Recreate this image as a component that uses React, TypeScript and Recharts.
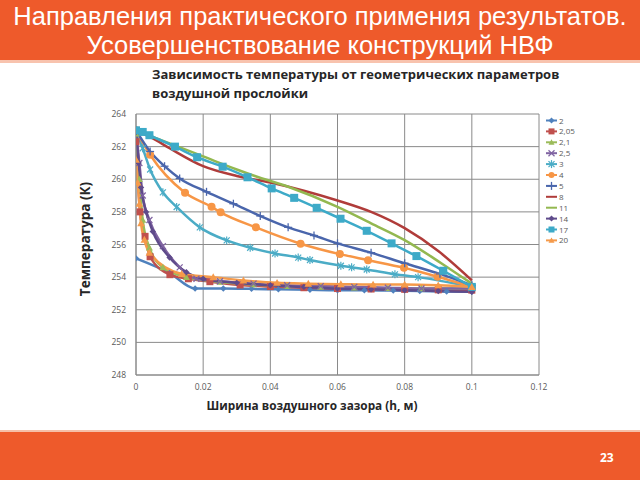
import { LineChart, Line, XAxis, YAxis, CartesianGrid } from 'recharts';

// каждая серия: [ширина зазора h, м ; температура, K]
const s2: [number, number][] = [
  [0, 255.15], [0.01, 254.25], [0.0176, 253.3], [0.026, 253.3], [0.0344, 253.28], [0.0424, 253.25],
  [0.0518, 253.22], [0.06, 253.2], [0.068, 253.2], [0.0766, 253.18], [0.0845, 253.15], [0.0925, 253.12], [0.1, 253.1],
];
const s205: [number, number][] = [
  [0, 262.3], [0.0012, 258.0], [0.0027, 256.5], [0.0042, 255.25], [0.0101, 254.15], [0.0156, 253.9],
  [0.022, 253.72], [0.031, 253.52], [0.04, 253.42], [0.05, 253.35], [0.06, 253.3], [0.07, 253.27],
  [0.08, 253.25], [0.09, 253.22], [0.1, 253.2],
];
const s21: [number, number][] = [
  [0, 262.8], [0.001, 260.0], [0.002, 257.5], [0.004, 255.8], [0.008, 254.6], [0.015, 254.0],
  [0.025, 253.7], [0.035, 253.55], [0.045, 253.45], [0.055, 253.4], [0.065, 253.35], [0.075, 253.32],
  [0.085, 253.3], [0.1, 253.3],
];
const s25: [number, number][] = [
  [0, 263.0], [0.001, 261.0], [0.002, 259.0], [0.004, 257.5], [0.008, 255.9], [0.013, 254.6],
  [0.018, 253.9], [0.025, 253.75], [0.035, 253.6], [0.045, 253.5], [0.055, 253.45], [0.065, 253.4],
  [0.075, 253.35], [0.085, 253.3], [0.1, 253.3],
];
const s3: [number, number][] = [
  [0, 263.0], [0.002, 261.9], [0.0042, 260.6], [0.008, 259.2], [0.0121, 258.3], [0.019, 257.05],
  [0.027, 256.25], [0.034, 255.8], [0.0414, 255.45], [0.0483, 255.2], [0.0518, 255.05], [0.061, 254.7],
  [0.0642, 254.6], [0.0687, 254.47], [0.0771, 254.17], [0.084, 254.0], [0.1, 253.4],
];
const s4: [number, number][] = [
  [0, 263.0], [0.0042, 261.5], [0.0146, 259.17], [0.0225, 258.31], [0.0252, 257.97], [0.0357, 257.05],
  [0.049, 256.05], [0.0607, 255.41], [0.0691, 255.04], [0.0798, 254.57], [0.0898, 254.02], [0.1, 253.4],
];
const s5: [number, number][] = [
  [0, 263.0], [0.0042, 261.7], [0.0085, 260.8], [0.013, 260.05], [0.021, 259.23], [0.029, 258.5],
  [0.037, 257.75], [0.0453, 257.05], [0.053, 256.55], [0.06, 256.07], [0.07, 255.5], [0.08, 254.85],
  [0.0905, 254.2], [0.1, 253.5],
];
const s8: [number, number][] = [
  [0, 263.0], [0.005, 262.5], [0.01, 261.9], [0.02, 260.8], [0.03, 260.2], [0.04, 259.8], [0.05, 259.3],
  [0.06, 258.7], [0.07, 258.0], [0.08, 257.0], [0.09, 255.6], [0.1, 253.8],
];
const s11: [number, number][] = [
  [0, 263.0], [0.01, 262.2], [0.02, 261.4], [0.03, 260.6], [0.0354, 260.2], [0.0453, 259.54],
  [0.06, 258.31], [0.07, 257.3], [0.08, 256.27], [0.091, 254.84], [0.1, 253.6],
];
const s14: [number, number][] = [
  [0, 262.9], [0.0008, 261.0], [0.0015, 259.5], [0.003, 258.0], [0.005, 256.8], [0.01, 255.2],
  [0.015, 254.3], [0.02, 253.9], [0.03, 253.65], [0.04, 253.5], [0.05, 253.4], [0.06, 253.3],
  [0.07, 253.25], [0.08, 253.2], [0.09, 253.15], [0.1, 253.1],
];
const s17: [number, number][] = [
  [0, 263.0], [0.002, 262.9], [0.004, 262.7], [0.0116, 262.0], [0.0182, 261.35], [0.0258, 260.77],
  [0.0332, 260.12], [0.0404, 259.44], [0.0471, 258.86], [0.0538, 258.25], [0.0609, 257.58],
  [0.0687, 256.84], [0.0761, 256.07], [0.0835, 255.29], [0.0915, 254.39], [0.1, 253.4],
];
const s20: [number, number][] = [
  [0, 261.2], [0.0005, 259.8], [0.001, 258.5], [0.0015, 257.3], [0.0025, 256.3], [0.004, 255.5],
  [0.0136, 254.2], [0.023, 254.0], [0.032, 253.8], [0.042, 253.65], [0.0513, 253.6], [0.061, 253.57],
  [0.0706, 253.55], [0.08, 253.55], [0.09, 253.5], [0.1, 253.4],
];

const seriesNames = ['2', '2,05', '2,1', '2,5', '3', '4', '5', '8', '11', '14', '17', '20'];
const seriesValues = [s2, s205, s21, s25, s3, s4, s5, s8, s11, s14, s17, s20];
const seriesColors = [
  '#4F81BD', '#C0504D', '#9BBB59', '#8064A2', '#4BACC6', '#F79646',
  '#4A66AC', '#B03C3A', '#93B850', '#5F4B8B', '#3DAAC8', '#F59A4A',
];
const seriesMarkers = [
  'diamond', 'square', 'triangle', 'x', 'asterisk', 'circle',
  'plus', 'none', 'none', 'diamond', 'square', 'triangle',
];
const markerSizes = [3.2, 3.5, 3.5, 3, 3, 4, 3, 0, 0, 3.2, 4, 3.8];

const xTicks = [0, 0.02, 0.04, 0.06, 0.08, 0.1, 0.12];
const yTicks = [248, 250, 252, 254, 256, 258, 260, 262, 264];

const series = seriesNames.map((name, i) => ({
  name,
  color: seriesColors[i],
  marker: seriesMarkers[i],
  size: markerSizes[i],
  data: seriesValues[i].map(([x, y]) => ({ x, y })),
}));

const FONT = "'Open Sans', 'Liberation Sans', sans-serif";

function Marker({ kind, cx, cy, r, color }: { kind: string; cx: number; cy: number; r: number; color: string }) {
  if (kind === 'diamond') {
    return <polygon points={`${cx},${cy - r} ${cx + r},${cy} ${cx},${cy + r} ${cx - r},${cy}`} fill={color} />;
  }
  if (kind === 'square') {
    return <rect x={cx - r} y={cy - r} width={r * 2} height={r * 2} fill={color} />;
  }
  if (kind === 'triangle') {
    return <polygon points={`${cx},${cy - r} ${cx + r},${cy + r * 0.8} ${cx - r},${cy + r * 0.8}`} fill={color} />;
  }
  if (kind === 'circle') {
    return <circle cx={cx} cy={cy} r={r} fill={color} />;
  }
  if (kind === 'x') {
    return (
      <g stroke={color} strokeWidth={1.3}>
        <line x1={cx - r} y1={cy - r} x2={cx + r} y2={cy + r} />
        <line x1={cx - r} y1={cy + r} x2={cx + r} y2={cy - r} />
      </g>
    );
  }
  if (kind === 'asterisk') {
    return (
      <g stroke={color} strokeWidth={1.2}>
        <line x1={cx - r} y1={cy - r} x2={cx + r} y2={cy + r} />
        <line x1={cx - r} y1={cy + r} x2={cx + r} y2={cy - r} />
        <line x1={cx} y1={cy - r - 1} x2={cx} y2={cy + r + 1} />
      </g>
    );
  }
  if (kind === 'plus') {
    return (
      <g stroke={color} strokeWidth={1.3}>
        <line x1={cx - r - 1} y1={cy} x2={cx + r + 1} y2={cy} />
        <line x1={cx} y1={cy - r - 1} x2={cx} y2={cy + r + 1} />
      </g>
    );
  }
  return null;
}

function makeDot(kind: string, color: string, r: number) {
  if (kind === 'none') return false;
  return (props: any) => {
    const { cx, cy, index } = props;
    if (cx == null || cy == null) return <g key={index} />;
    return (
      <g key={index}>
        <Marker kind={kind} cx={cx} cy={cy} r={r} color={color} />
      </g>
    );
  };
}

function Legend() {
  return (
    <svg width={50} height={135} style={{ position: 'absolute', left: 542, top: 113 }}>
      {series.map((s, i) => {
        const y = 7.5 + i * 10.9;
        return (
          <g key={s.name}>
            <line x1={4} y1={y} x2={15} y2={y} stroke={s.color} strokeWidth={2} />
            <Marker kind={s.marker} cx={9.5} cy={y} r={Math.min(s.size, 3)} color={s.color} />
            <text x={17} y={y + 3} fontSize={8} fill="#595959" fontFamily={FONT}>
              {s.name}
            </text>
          </g>
        );
      })}
    </svg>
  );
}

export default function App() {
  return (
    <div
      style={{
        position: 'absolute',
        left: 0,
        top: 0,
        width: 640,
        height: 480,
        background: '#fff',
        overflow: 'hidden',
        fontFamily: FONT,
      }}
    >
      {/* шапка слайда */}
      <div style={{ position: 'absolute', left: 0, top: 0, width: 640, height: 60, background: '#EE5A2B' }} />
      <div style={{ position: 'absolute', left: 0, top: 60, width: 640, height: 3, background: '#F8C3AE' }} />
      <div
        style={{
          position: 'absolute',
          left: 0,
          top: 2,
          width: 640,
          textAlign: 'center',
          color: '#fff',
          fontFamily: "'Liberation Sans', Arial, sans-serif",
          fontSize: 25.5,
          lineHeight: '29px',
          whiteSpace: 'nowrap',
        }}
      >
        Направления практического примения результатов.
        <br />
        Усовершенствование конструкций НВФ
      </div>

      {/* заголовок диаграммы */}
      <div
        style={{
          position: 'absolute',
          left: 152,
          top: 65,
          fontSize: 13,
          fontWeight: 700,
          color: '#262626',
          lineHeight: '19px',
          whiteSpace: 'nowrap',
        }}
      >
        Зависимость температуры от геометрических параметров
        <br />
        воздушной прослойки
      </div>

      <div style={{ position: 'absolute', left: 0, top: 0 }}>
        <LineChart width={640} height={480} margin={{ top: 114, right: 101, bottom: 85, left: 106 }}>
          <CartesianGrid stroke="#8a8a8a" strokeWidth={1} />
          <XAxis
            type="number"
            dataKey="x"
            domain={[0, 0.12]}
            ticks={xTicks}
            allowDataOverflow
            tickFormatter={(v: number) => String(v)}
            tick={{ fontSize: 8.5, fill: '#595959', fontFamily: FONT }}
            tickLine={false}
            axisLine={{ stroke: '#8a8a8a' }}
            height={20}
            tickMargin={3}
          />
          <YAxis
            type="number"
            dataKey="y"
            domain={[248, 264]}
            ticks={yTicks}
            allowDataOverflow
            tick={{ fontSize: 8.5, fill: '#595959', fontFamily: FONT }}
            tickLine={false}
            axisLine={{ stroke: '#8a8a8a' }}
            width={30}
            tickMargin={4}
          />
          {series.map((s) => (
            <Line
              key={s.name}
              data={s.data}
              dataKey="y"
              name={s.name}
              type="monotone"
              stroke={s.color}
              strokeWidth={2.5}
              dot={makeDot(s.marker, s.color, s.size)}
              activeDot={false}
              isAnimationActive={false}
            />
          ))}
        </LineChart>
      </div>

      {/* подписи осей */}
      <div
        style={{
          position: 'absolute',
          left: 85,
          top: 239,
          transform: 'translate(-50%, -50%) rotate(-90deg)',
          whiteSpace: 'nowrap',
          fontSize: 13.5,
          fontWeight: 700,
          color: '#262626',
        }}
      >
        Температура (К)
      </div>
      <div
        style={{
          position: 'absolute',
          left: 312,
          top: 405,
          transform: 'translate(-50%, -50%)',
          whiteSpace: 'nowrap',
          fontSize: 11.8,
          fontWeight: 700,
          color: '#262626',
        }}
      >
        Ширина воздушного зазора (h, м)
      </div>

      <Legend />

      {/* подвал слайда */}
      <div style={{ position: 'absolute', left: 0, top: 430, width: 640, height: 2, background: '#F6BFA8' }} />
      <div style={{ position: 'absolute', left: 0, top: 432, width: 640, height: 48, background: '#EE5A2B' }} />
      <div
        style={{
          position: 'absolute',
          left: 600,
          top: 449,
          fontSize: 12,
          fontWeight: 700,
          color: '#fff',
        }}
      >
        23
      </div>
    </div>
  );
}
